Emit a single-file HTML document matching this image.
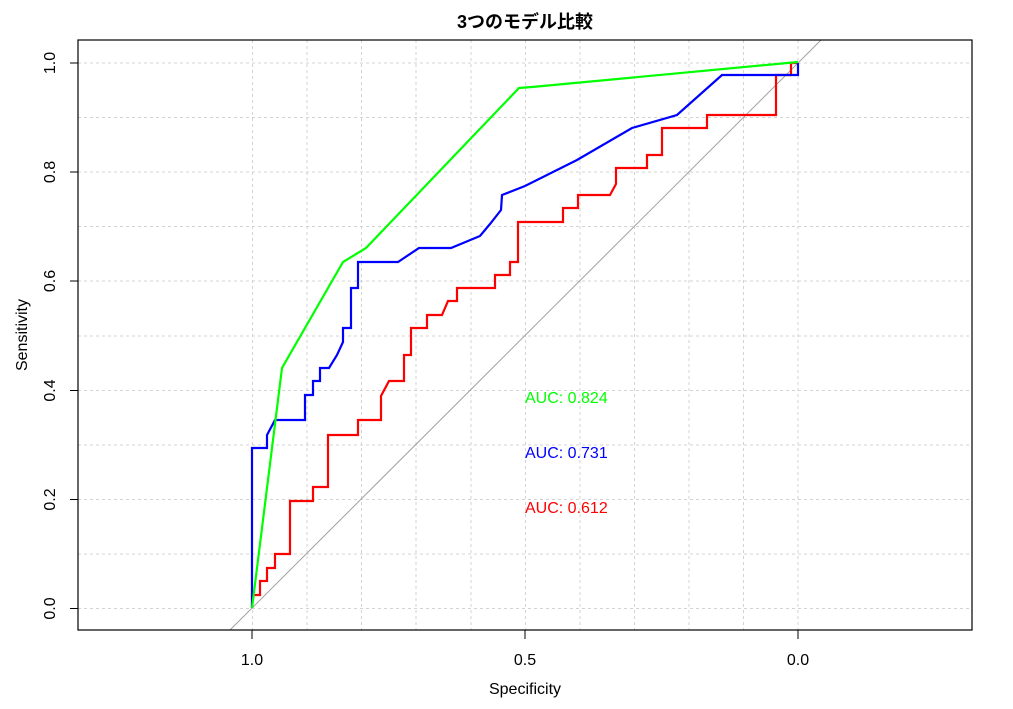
<!DOCTYPE html>
<html><head><meta charset="utf-8"><style>body{margin:0;background:#fff}svg{display:block}</style></head>
<body>
<svg width="1013" height="709" xmlns="http://www.w3.org/2000/svg" font-family="Liberation Sans, Arial, sans-serif">
<rect width="1013" height="709" fill="#fff"/>
<defs><clipPath id="c"><rect x="78" y="40" width="894" height="590"/></clipPath></defs>
<g stroke="#d3d3d3" stroke-dasharray="3,3" stroke-width="1">
<line x1="252.5" y1="40" x2="252.5" y2="630"/><line x1="307" y1="40" x2="307" y2="630"/><line x1="361.5" y1="40" x2="361.5" y2="630"/><line x1="416" y1="40" x2="416" y2="630"/><line x1="471" y1="40" x2="471" y2="630"/><line x1="525.5" y1="40" x2="525.5" y2="630"/><line x1="580" y1="40" x2="580" y2="630"/><line x1="634.5" y1="40" x2="634.5" y2="630"/><line x1="689" y1="40" x2="689" y2="630"/><line x1="743.5" y1="40" x2="743.5" y2="630"/><line x1="798" y1="40" x2="798" y2="630"/>
<line x1="78" y1="608.5" x2="972" y2="608.5"/><line x1="78" y1="554" x2="972" y2="554"/><line x1="78" y1="499.5" x2="972" y2="499.5"/><line x1="78" y1="445" x2="972" y2="445"/><line x1="78" y1="390.5" x2="972" y2="390.5"/><line x1="78" y1="336" x2="972" y2="336"/><line x1="78" y1="281" x2="972" y2="281"/><line x1="78" y1="226.5" x2="972" y2="226.5"/><line x1="78" y1="172" x2="972" y2="172"/><line x1="78" y1="117.5" x2="972" y2="117.5"/><line x1="78" y1="63" x2="972" y2="63"/>
</g>
<g clip-path="url(#c)">
<line x1="230" y1="630" x2="821" y2="40" stroke="#a0a0a0" stroke-width="1"/>
</g>
<g fill="none" stroke-width="2.2" stroke-linejoin="miter">
<polyline stroke="#ff0000" points="252,608 252,595 260,595 260,581 267,581 267,568 275,568 275,554 290,554 290,501 313,501 313,487 328,487 328,435 358,435 358,420 381,420 381,396 389,381 404,381 404,355 411,355 411,328 427,328 427,315 442,315 448,301 457,301 457,288 495,288 495,275 510,275 510,262 518,262 518,222 563,222 563,208 578,208 578,195 610,195 616,184 616,168 647,168 647,155 662,155 662,128 707,128 707,115 776,115 776,75 791,75 791,63 798,63"/>
<polyline stroke="#0000ff" points="252,608 252,448 267,448 267,435 275,420 305,420 305,395 313,395 313,381 320,381 320,368 329,368 337,355 343,342 343,328 351,328 351,288 358,288 358,262 398,262 419,248 451,248 480,236 490,224 501,210 502,195 525,186 577,160 632,128 677,115 722,75 798,75 798,63"/>
<polyline stroke="#00ff00" points="252,608 282,368 343,262 366,248 519,88 532,87 798,62"/>
</g>
<rect x="78" y="40" width="894" height="590" fill="none" stroke="#000" stroke-width="1.2"/>
<g stroke="#000" stroke-width="1">
<line x1="252" y1="630" x2="252" y2="639"/><line x1="525" y1="630" x2="525" y2="639"/><line x1="798" y1="630" x2="798" y2="639"/>
<line x1="70" y1="608.5" x2="78" y2="608.5"/><line x1="70" y1="499.5" x2="78" y2="499.5"/><line x1="70" y1="390.5" x2="78" y2="390.5"/><line x1="70" y1="281" x2="78" y2="281"/><line x1="70" y1="172" x2="78" y2="172"/><line x1="70" y1="63" x2="78" y2="63"/>
</g>
<g font-size="16" fill="#000" text-anchor="middle">
<text x="252" y="665">1.0</text><text x="525" y="665">0.5</text><text x="798" y="665">0.0</text>
<text x="525" y="694">Specificity</text>
<text transform="translate(55,608.5) rotate(-90)">0.0</text>
<text transform="translate(55,499.5) rotate(-90)">0.2</text>
<text transform="translate(55,390.5) rotate(-90)">0.4</text>
<text transform="translate(55,281) rotate(-90)">0.6</text>
<text transform="translate(55,172) rotate(-90)">0.8</text>
<text transform="translate(55,63) rotate(-90)">1.0</text>
<text transform="translate(27,335) rotate(-90)">Sensitivity</text>
</g>
<text x="525" y="28" text-anchor="middle" font-size="18" font-weight="bold" font-family="Liberation Sans, Noto Sans CJK JP, sans-serif">3つのモデル比較</text>
<g font-size="16">
<text x="525" y="403" fill="#00ff00">AUC: 0.824</text>
<text x="525" y="458" fill="#0000ff">AUC: 0.731</text>
<text x="525" y="513" fill="#ff0000">AUC: 0.612</text>
</g>
</svg>
</body></html>
